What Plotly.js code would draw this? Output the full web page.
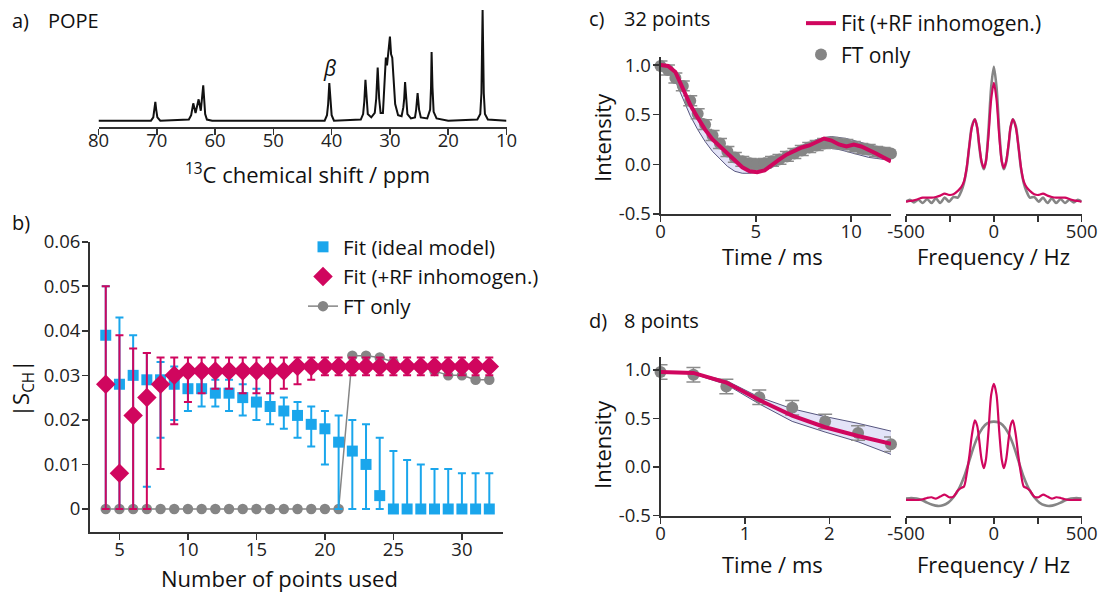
<!DOCTYPE html>
<html>
<head>
<meta charset="utf-8">
<script src="https://cdn.plot.ly/plotly-3.0.1.min.js"></script>
<style>
  html, body { margin: 0; padding: 0; background: #ffffff; }
  #fig { width: 1104px; height: 597px; }
</style>
</head>
<body>
<div id="fig"></div>
<script>
// ---------- a) 13C spectrum of POPE ----------
const shiftPpm = [80, 71.0, 70.6, 70.4, 70.25, 70.1, 69.9, 69.4, 65.0, 64.5, 64.1, 63.74, 63.35, 62.82, 62.45, 62.03, 61.7, 61.4, 60.5,
  41.2, 40.8, 40.6, 40.4, 40.2, 40.0, 39.6, 35.0, 34.6, 34.4, 34.2, 34.0, 33.8, 33.2, 32.6, 32.35, 32.1, 31.85, 31.6, 31.2,
  30.9, 30.7, 30.5, 30.3, 30.0, 29.8, 29.6, 29.4, 29.1, 28.6, 28.0, 27.7, 27.55, 27.4, 27.2, 27.0, 26.4, 25.7, 25.5, 25.25,
  25.0, 24.7, 23.6, 23.1, 22.95, 22.85, 22.7, 22.5, 22.0, 20.0, 15.0, 14.5, 14.3, 14.1, 13.9, 13.7, 13.2, 10.0];
const shiftInt = [0.0, 0.0, 0.03, 0.10, 0.17, 0.10, 0.03, 0.0, 0.01, 0.01, 0.05, 0.157, 0.07, 0.193, 0.09, 0.32, 0.06, 0.01, 0.0,
  0.0, 0.05, 0.15, 0.34, 0.15, 0.05, 0.0, 0.01, 0.06, 0.17, 0.37, 0.17, 0.06, 0.03, 0.07, 0.20, 0.48, 0.20, 0.07, 0.07,
  0.35, 0.57, 0.50, 0.62, 0.76, 0.60, 0.57, 0.40, 0.15, 0.05, 0.04, 0.12, 0.20, 0.35, 0.20, 0.06, 0.02, 0.03, 0.10, 0.25,
  0.10, 0.03, 0.02, 0.10, 0.30, 0.62, 0.30, 0.08, 0.02, 0.0, 0.01, 0.06, 0.25, 1.0, 0.25, 0.06, 0.01, 0.0];
const shiftTicks = [80, 70, 60, 50, 40, 30, 20, 10];

// ---------- b) |S_CH| versus number of points ----------
const nPoints = [4, 5, 6, 7, 8, 9, 10, 11, 12, 13, 14, 15, 16, 17, 18, 19, 20, 21, 22, 23, 24, 25, 26, 27, 28, 29, 30, 31, 32];
const fitIdeal = [0.039, 0.028, 0.030, 0.029, 0.029, 0.028, 0.027, 0.027, 0.026, 0.026, 0.025, 0.024, 0.023, 0.022, 0.021, 0.019, 0.018, 0.015, 0.013, 0.010, 0.003, 0, 0, 0, 0, 0, 0, 0, 0];
const fitIdealHi = [0.050, 0.043, 0.039, 0.035, 0.033, 0.032, 0.031, 0.030, 0.029, 0.029, 0.028, 0.027, 0.026, 0.025, 0.024, 0.023, 0.022, 0.021, 0.020, 0.019, 0.016, 0.013, 0.011, 0.010, 0.009, 0.009, 0.008, 0.008, 0.008];
const fitIdealLo = [0, 0, 0, 0.005, 0.016, 0.020, 0.022, 0.023, 0.023, 0.022, 0.021, 0.020, 0.019, 0.018, 0.016, 0.014, 0.010, 0, 0, 0, 0, 0, 0, 0, 0, 0, 0, 0, 0];
const fitRF = [0.028, 0.008, 0.021, 0.025, 0.028, 0.030, 0.031, 0.031, 0.031, 0.031, 0.031, 0.031, 0.031, 0.031, 0.032, 0.032, 0.032, 0.032, 0.032, 0.032, 0.032, 0.032, 0.032, 0.032, 0.032, 0.032, 0.032, 0.032, 0.032];
const fitRFHi = [0.050, 0.039, 0.036, 0.035, 0.034, 0.034, 0.034, 0.034, 0.034, 0.034, 0.034, 0.034, 0.034, 0.034, 0.034, 0.034, 0.034, 0.034, 0.034, 0.034, 0.034, 0.034, 0.034, 0.034, 0.034, 0.034, 0.034, 0.034, 0.034];
const fitRFLo = [0, 0, 0, 0, 0.009, 0.019, 0.024, 0.026, 0.027, 0.027, 0.026, 0.026, 0.026, 0.027, 0.028, 0.029, 0.030, 0.030, 0.030, 0.030, 0.030, 0.030, 0.030, 0.030, 0.030, 0.030, 0.030, 0.030, 0.030];
const ftOnly = [0, 0, 0, 0, 0, 0, 0, 0, 0, 0, 0, 0, 0, 0, 0, 0, 0, 0, 0.0344, 0.0344, 0.034, 0.033, 0.032, 0.032, 0.031, 0.030, 0.030, 0.029, 0.029];
const sTicks = [0, 0.01, 0.02, 0.03, 0.04, 0.05, 0.06];
const sTickText = ['0', '0.01', '0.02', '0.03', '0.04', '0.05', '0.06'];
const nTicks = [5, 10, 15, 20, 25, 30];

// ---------- c) 32 points ----------
const timeC = [0, 0.39, 0.78, 1.17, 1.56, 1.95, 2.34, 2.73, 3.12, 3.51, 3.90, 4.29, 4.68, 5.07, 5.46, 5.85, 6.24, 6.63, 7.02, 7.41, 7.80, 8.19, 8.58, 8.97, 9.36, 9.75, 10.14, 10.53, 10.92, 11.31, 11.70, 12.09];
const dataC = [0.99, 0.95, 0.87, 0.79, 0.64, 0.51, 0.40, 0.29, 0.21, 0.13, 0.07, 0.03, 0.01, 0.00, 0.01, 0.03, 0.05, 0.08, 0.11, 0.14, 0.17, 0.19, 0.21, 0.22, 0.21, 0.20, 0.18, 0.16, 0.15, 0.13, 0.12, 0.11];
const errC = [0.05, 0.05, 0.05, 0.05, 0.05, 0.05, 0.05, 0.05, 0.05, 0.05, 0.05, 0.05, 0.05, 0.05, 0.05, 0.05, 0.05, 0.05, 0.05, 0.05, 0.05, 0.05, 0.05, 0.05, 0.05, 0.05, 0.05, 0.05, 0.05, 0.05, 0.05, 0.05];
const fitC = [1.00, 0.99, 0.93, 0.77, 0.60, 0.47, 0.35, 0.25, 0.18, 0.10, 0.04, -0.03, -0.07, -0.08, -0.06, 0.00, 0.05, 0.10, 0.14, 0.17, 0.19, 0.23, 0.26, 0.24, 0.20, 0.18, 0.20, 0.18, 0.15, 0.11, 0.07, 0.03];
const bandLoC = [0.98, 0.95, 0.84, 0.66, 0.49, 0.35, 0.23, 0.13, 0.05, -0.02, -0.07, -0.09, -0.09, -0.08, -0.06, -0.03, 0.00, 0.04, 0.07, 0.10, 0.13, 0.15, 0.16, 0.16, 0.15, 0.13, 0.11, 0.09, 0.07, 0.06, 0.05, 0.05];
const bandHiC = [1.00, 0.99, 0.93, 0.78, 0.62, 0.49, 0.37, 0.27, 0.19, 0.11, 0.05, 0.01, -0.01, -0.01, 0.01, 0.04, 0.08, 0.12, 0.16, 0.19, 0.22, 0.25, 0.27, 0.28, 0.27, 0.26, 0.24, 0.22, 0.20, 0.18, 0.16, 0.15];
const freqC = [-500, -478, -455, -430, -405, -380, -355, -330, -305, -280, -255, -230, -205, -185, -170, -155, -140, -125, -108, -95, -84, -70, -57, -45, -31, -15, 0,
  15, 31, 45, 57, 70, 84, 95, 108, 125, 140, 155, 170, 185, 205, 230, 255, 280, 305, 330, 355, 380, 405, 430, 455, 478, 500];
const specFtC = [0, 0.015, -0.005, 0.015, -0.01, 0.02, -0.01, 0.025, -0.01, 0.03, 0.0, 0.035, 0.03, 0.08, 0.14, 0.24, 0.41, 0.56, 0.61, 0.55, 0.42, 0.29, 0.24, 0.30, 0.52, 0.85, 1.0,
  0.85, 0.52, 0.30, 0.24, 0.29, 0.42, 0.55, 0.61, 0.56, 0.41, 0.24, 0.14, 0.08, 0.03, 0.035, 0.0, 0.03, -0.01, 0.025, -0.01, 0.02, -0.01, 0.015, -0.005, 0.015, 0];
const specFitC = [0.0, 0.005, 0.01, 0.02, 0.03, 0.03, 0.03, 0.035, 0.045, 0.06, 0.05, 0.055, 0.08, 0.11, 0.15, 0.25, 0.41, 0.55, 0.61, 0.55, 0.43, 0.30, 0.25, 0.30, 0.48, 0.76, 0.88,
  0.76, 0.48, 0.30, 0.25, 0.30, 0.43, 0.55, 0.61, 0.55, 0.41, 0.25, 0.15, 0.11, 0.08, 0.055, 0.05, 0.06, 0.045, 0.035, 0.03, 0.03, 0.03, 0.02, 0.01, 0.005, 0.0];

// ---------- d) 8 points ----------
const timeD = [0, 0.39, 0.78, 1.17, 1.56, 1.95, 2.34, 2.73];
const dataD = [0.98, 0.95, 0.83, 0.72, 0.61, 0.47, 0.35, 0.235];
const errD = [0.075, 0.075, 0.075, 0.075, 0.075, 0.075, 0.075, 0.075];
const fitD = [0.98, 0.97, 0.87, 0.69, 0.53, 0.41, 0.32, 0.24];
const bandLoD = [0.98, 0.96, 0.85, 0.65, 0.47, 0.36, 0.26, 0.13];
const bandHiD = [0.98, 0.97, 0.89, 0.72, 0.60, 0.52, 0.45, 0.37];
const freqD = [-500, -470, -440, -410, -380, -350, -320, -290, -260, -230, -200, -170, -140, -110, -80, -50, -25, 0,
  25, 50, 80, 110, 140, 170, 200, 230, 260, 290, 320, 350, 380, 410, 440, 470, 500];
const specFtD = [0.01, 0.015, 0.01, 0.0, -0.02, -0.035, -0.044, -0.04, -0.02, 0.02, 0.08, 0.17, 0.29, 0.41, 0.50, 0.555, 0.575, 0.58,
  0.575, 0.555, 0.50, 0.41, 0.29, 0.17, 0.08, 0.02, -0.02, -0.04, -0.044, -0.035, -0.02, 0.0, 0.01, 0.015, 0.01];
const specFitD = [0.0, 0.0, 0.0, 0.0, 0.005, 0.015, 0.02, 0.01, 0.025, 0.04, 0.02, 0.025, 0.07, 0.09, 0.10, 0.19, 0.32, 0.48, 0.59, 0.55, 0.45, 0.30, 0.235, 0.30, 0.50, 0.78, 0.86,
  0.78, 0.50, 0.30, 0.235, 0.30, 0.45, 0.55, 0.59, 0.48, 0.32, 0.19, 0.10, 0.09, 0.07, 0.025, 0.02, 0.04, 0.025, 0.01, 0.02, 0.015, 0.005, 0.0, 0.0, 0.0, 0.0];
const intensityTicks = [-0.5, 0, 0.5, 1];
const intensityText = ['-0.5', '0.0', '0.5', '1.0'];
const freqTicks = [-500, 0, 500];
const freqText = ['-500', '0', '500'];
const freqMinorTicks = [-250, 250];

// ---------- styling ----------
const W = 1104, H = 597;
const px = v => v / W;
const py = v => 1 - v / H;
const FONT = 'Open Sans, Noto Sans, sans-serif';
const INK = '#333333';
const RED = '#d0065e';
const BLUE = '#1aa6ec';
const GREY = '#858585';

function axisStyle(extra) {
  return Object.assign({
    showline: true, linecolor: INK, linewidth: 2,
    ticks: 'outside', ticklen: 6, tickwidth: 1.6, tickcolor: INK,
    ticklabelstandoff: -6,
    showgrid: false, zeroline: false,
    tickfont: { family: FONT, size: 18.5, color: '#222' },
    fixedrange: true
  }, extra);
}
const freqMinor = { tickvals: freqMinorTicks, ticks: 'outside', ticklen: 6, tickwidth: 1.6, tickcolor: INK, showgrid: false };

const traces = [
  // a)
  { x: shiftPpm, y: shiftInt, xaxis: 'x', yaxis: 'y', mode: 'lines',
    line: { color: '#111', width: 2 }, showlegend: false, hoverinfo: 'skip' },

  // b)
  { x: nPoints, y: ftOnly, xaxis: 'x2', yaxis: 'y2', mode: 'lines+markers', name: 'FT only',
    line: { color: GREY, width: 1.5 }, marker: { color: GREY, size: 10.5 },
    legend: 'legend', legendrank: 3, legendgroup: 'g3', cliponaxis: false },
  { x: nPoints, y: fitIdeal, xaxis: 'x2', yaxis: 'y2', mode: 'markers', name: 'Fit (ideal model)',
    marker: { color: BLUE, size: 11, symbol: 'square' },
    error_y: { type: 'data', symmetric: false,
      array: fitIdealHi.map((h, i) => h - fitIdeal[i]),
      arrayminus: fitIdealLo.map((l, i) => fitIdeal[i] - l),
      color: BLUE, thickness: 2, width: 4 },
    legend: 'legend', legendrank: 1, legendgroup: 'g1', cliponaxis: false },
  { x: nPoints, y: fitRF, xaxis: 'x2', yaxis: 'y2', mode: 'markers', name: 'Fit (+RF inhomogen.)',
    marker: { color: RED, size: 15, symbol: 'diamond' },
    error_y: { type: 'data', symmetric: false,
      array: fitRFHi.map((h, i) => h - fitRF[i]),
      arrayminus: fitRFLo.map((l, i) => fitRF[i] - l),
      color: RED, thickness: 2, width: 4 },
    legend: 'legend', legendrank: 2, legendgroup: 'g2', cliponaxis: false },

  // c) time domain
  { x: timeC, y: bandLoC, xaxis: 'x3', yaxis: 'y3', mode: 'lines',
    line: { color: '#2e2e5e', width: 0.8 }, showlegend: false, hoverinfo: 'skip' },
  { x: timeC, y: bandHiC, xaxis: 'x3', yaxis: 'y3', mode: 'lines', fill: 'tonexty',
    fillcolor: 'rgba(215,215,245,0.7)',
    line: { color: '#2e2e5e', width: 0.8 }, showlegend: false, hoverinfo: 'skip' },
  { x: timeC, y: dataC, xaxis: 'x3', yaxis: 'y3', mode: 'markers', name: 'FT only',
    marker: { color: GREY, size: 12 },
    error_y: { type: 'data', array: errC, color: '#8c8c8c', thickness: 1.5, width: 7 },
    legend: 'legend2', legendrank: 2, legendgroup: 'c2', cliponaxis: false },
  { x: timeC, y: fitC, xaxis: 'x3', yaxis: 'y3', mode: 'lines', name: 'Fit (+RF inhomogen.)',
    line: { color: RED, width: 4 },
    legend: 'legend2', legendrank: 1, legendgroup: 'c1' },

  // c) frequency domain
  { x: freqC, y: specFtC, xaxis: 'x4', yaxis: 'y4', mode: 'lines',
    line: { color: GREY, width: 2.6, shape: 'spline', smoothing: 0.8 }, showlegend: false, hoverinfo: 'skip' },
  { x: freqC, y: specFitC, xaxis: 'x4', yaxis: 'y4', mode: 'lines',
    line: { color: RED, width: 2.2, shape: 'spline', smoothing: 0.8 }, showlegend: false, hoverinfo: 'skip' },

  // d) time domain
  { x: timeD, y: bandLoD, xaxis: 'x5', yaxis: 'y5', mode: 'lines',
    line: { color: '#2e2e5e', width: 0.8 }, showlegend: false, hoverinfo: 'skip' },
  { x: timeD, y: bandHiD, xaxis: 'x5', yaxis: 'y5', mode: 'lines', fill: 'tonexty',
    fillcolor: 'rgba(215,215,245,0.7)',
    line: { color: '#2e2e5e', width: 0.8 }, showlegend: false, hoverinfo: 'skip' },
  { x: timeD, y: dataD, xaxis: 'x5', yaxis: 'y5', mode: 'markers',
    marker: { color: GREY, size: 12 },
    error_y: { type: 'data', array: errD, color: '#8c8c8c', thickness: 1.5, width: 7 },
    showlegend: false, cliponaxis: false },
  { x: timeD, y: fitD, xaxis: 'x5', yaxis: 'y5', mode: 'lines',
    line: { color: RED, width: 4 }, showlegend: false },

  // d) frequency domain
  { x: freqD, y: specFtD, xaxis: 'x6', yaxis: 'y6', mode: 'lines',
    line: { color: GREY, width: 2.6, shape: 'spline', smoothing: 0.8 }, showlegend: false, hoverinfo: 'skip' },
  { x: freqC, y: specFitD, xaxis: 'x6', yaxis: 'y6', mode: 'lines',
    line: { color: RED, width: 2.2, shape: 'spline', smoothing: 0.8 }, showlegend: false, hoverinfo: 'skip' }
];

function label(text, x, y, opts) {
  return Object.assign({
    text: text, xref: 'paper', yref: 'paper', x: px(x), y: py(y),
    xanchor: 'left', yanchor: 'middle', showarrow: false,
    font: { family: FONT, size: 20, color: '#111' }
  }, opts || {});
}
const TITLE = { family: FONT, size: 22, color: '#111' };

const layout = {
  width: W, height: H,
  margin: { l: 0, r: 0, t: 0, b: 0 },
  paper_bgcolor: '#ffffff', plot_bgcolor: 'rgba(0,0,0,0)',
  font: { family: FONT, color: '#111' },
  showlegend: true,

  xaxis: axisStyle({ domain: [px(98.5), px(506.5)], anchor: 'y', range: [80, 10], tickvals: shiftTicks, ticklabelstandoff: -10 }),
  yaxis: { domain: [py(127), py(8)], anchor: 'x', range: [-0.057, 1.018], visible: false, fixedrange: true },

  xaxis2: axisStyle({ domain: [px(90), px(503)], anchor: 'y2', range: [2.85, 33], tickvals: nTicks }),
  yaxis2: axisStyle({ domain: [py(531.7), py(241.7)], anchor: 'x2', range: [-0.0051, 0.06],
    tickvals: sTicks, ticktext: sTickText, ticklabelstandoff: -2 }),

  xaxis3: axisStyle({ domain: [px(660.5), px(891)], anchor: 'y3', range: [0, 12.09], tickvals: [0, 5, 10] }),
  yaxis3: axisStyle({ domain: [py(214), py(56.7)], anchor: 'x3', range: [-0.5, 1.084],
    tickvals: intensityTicks, ticktext: intensityText, ticklabelstandoff: -2 }),
  xaxis4: axisStyle({ domain: [px(906), px(1081.7)], anchor: 'y4', range: [-500, 500],
    tickvals: freqTicks, ticktext: freqText, minor: freqMinor }),
  yaxis4: { domain: [py(214), py(56.7)], anchor: 'x4', range: [-0.091, 1.074], visible: false, fixedrange: true },

  xaxis5: axisStyle({ domain: [px(660.5), px(891)], anchor: 'y5', range: [0, 2.73], tickvals: [0, 1, 2] }),
  yaxis5: axisStyle({ domain: [py(515.5), py(356.7)], anchor: 'x5', range: [-0.5, 1.137],
    tickvals: intensityTicks, ticktext: intensityText, ticklabelstandoff: -2 }),
  xaxis6: axisStyle({ domain: [px(906), px(1081.7)], anchor: 'y6', range: [-500, 500],
    tickvals: freqTicks, ticktext: freqText, minor: freqMinor }),
  yaxis6: { domain: [py(515.5), py(356.7)], anchor: 'x6', range: [-0.115, 1.061], visible: false, fixedrange: true },

  legend: {
    x: px(303), y: py(227), xanchor: 'left', yanchor: 'top',
    bgcolor: 'rgba(0,0,0,0)', borderwidth: 0,
    font: { family: FONT, size: 20.5, color: '#111' },
    traceorder: 'grouped', tracegroupgap: 0, itemwidth: 30
  },
  legend2: {
    x: px(801), y: py(3), xanchor: 'left', yanchor: 'top',
    bgcolor: 'rgba(0,0,0,0)', borderwidth: 0,
    font: { family: FONT, size: 21, color: '#111' },
    traceorder: 'grouped', tracegroupgap: 1, itemwidth: 30
  },

  annotations: [
    label('a)', 10, 20),
    label('POPE', 46, 20),
    label('<i>β</i>', 329, 68, { xanchor: 'center', font: { family: FONT, size: 21, color: '#111' } }),
    label('<sup>13</sup>C chemical shift / ppm', 307, 173, { xanchor: 'center', font: TITLE }),
    label('b)', 10, 222),
    label('|S<sub>CH</sub>|', 22, 388, { xanchor: 'center', textangle: -90, font: TITLE }),
    label('Number of points used', 279, 578, { xanchor: 'center', font: TITLE }),
    label('c)', 587, 19),
    label('32 points', 622, 19),
    label('Intensity', 602, 138, { xanchor: 'center', textangle: -90, font: TITLE }),
    label('Time / ms', 772, 256, { xanchor: 'center', font: TITLE }),
    label('Frequency / Hz', 993.5, 256, { xanchor: 'center', font: TITLE }),
    label('d)', 587, 320),
    label('8 points', 622, 320),
    label('Intensity', 602, 445, { xanchor: 'center', textangle: -90, font: TITLE }),
    label('Time / ms', 772, 564, { xanchor: 'center', font: TITLE }),
    label('Frequency / Hz', 993.5, 564, { xanchor: 'center', font: TITLE })
  ]
};

Plotly.newPlot('fig', traces, layout, { displayModeBar: false, staticPlot: true });
</script>
</body>
</html>
